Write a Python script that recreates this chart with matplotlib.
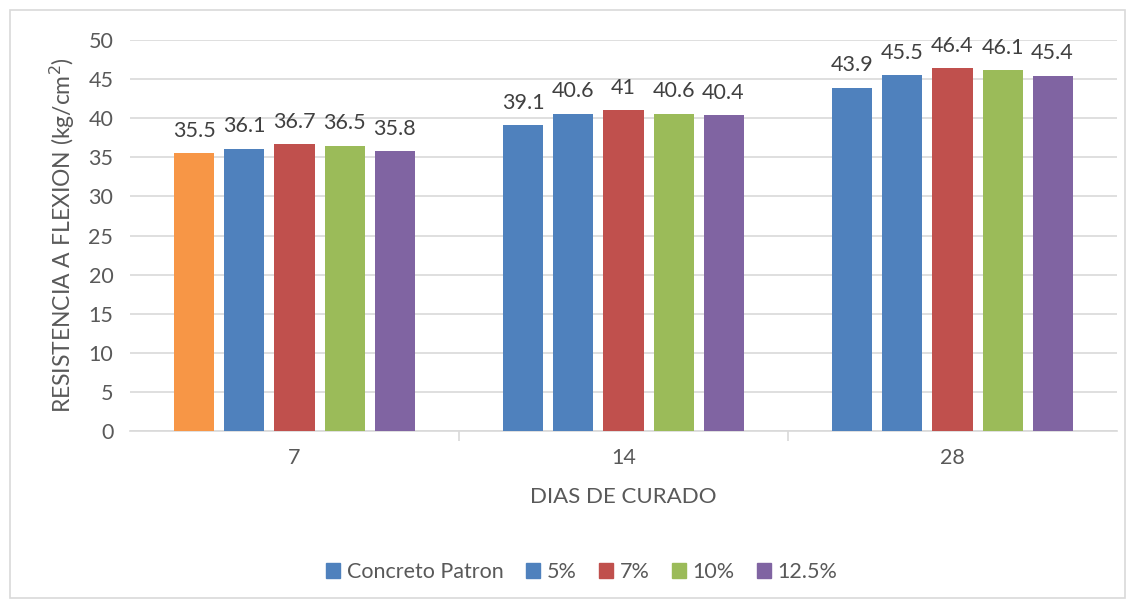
import matplotlib
matplotlib.use("Agg")
import matplotlib.pyplot as plt
import matplotlib.patches as mpatches
import numpy as np

# data
dias = ["7", "14", "28"]
series = ["Concreto Patron", "5%", "7%", "10%", "12.5%"]
patron = [35.5, 39.1, 43.9]
p5 = [36.1, 40.6, 45.5]
p7 = [36.7, 41, 46.4]
p10 = [36.5, 40.6, 46.1]
p125 = [35.8, 40.4, 45.4]
labels = [["35.5", "39.1", "43.9"], ["36.1", "40.6", "45.5"], ["36.7", "41", "46.4"],
          ["36.5", "40.6", "46.1"], ["35.8", "40.4", "45.4"]]

blue = "#4F81BD"
colors = [blue, blue, "#C0504D", "#9BBB59", "#8064A2"]
patron_colors = ["#F79646", blue, blue]  # first bar at 7 days is orange in the original
txt = "#595959"

plt.rcParams['font.family'] = ['Lato', 'DejaVu Sans']

fig = plt.figure(figsize=(11.35, 6.01), dpi=100)
ax = fig.add_axes([130 / 1135, 1 - 431 / 601, 987 / 1135, 391 / 601])

x = np.arange(len(dias))
step = 0.152
width = 0.1216
all_vals = [patron, p5, p7, p10, p125]
for i, vals in enumerate(all_vals):
    pos = x + (i - 2) * step
    cols = patron_colors if i == 0 else colors[i]
    ax.bar(pos, vals, width=width, color=cols, zorder=3)
    for px, v, lab in zip(pos, vals, labels[i]):
        ax.annotate(lab, (px, v), xytext=(0, 9), textcoords="offset points",
                    ha="center", va="bottom", fontsize=15.5, color="#404040")

ax.set_xlim(-0.5, 2.5)
ax.set_ylim(0, 50)
ax.set_yticks(range(0, 51, 5))
ax.yaxis.grid(True, color="#D9D9D9", linewidth=1.2, zorder=0)
ax.set_xticks(x)
ax.set_xticklabels(dias)
ax.set_xticks([0.5, 1.5], minor=True)
ax.tick_params(axis="x", which="major", length=0, pad=12, labelsize=15.5, labelcolor=txt)
ax.tick_params(axis="x", which="minor", length=7, color="#D9D9D9", width=1.2)
ax.tick_params(axis="y", length=0, pad=12, labelsize=15.5, labelcolor=txt)
for s in ["top", "right", "left"]:
    ax.spines[s].set_visible(False)
ax.spines["bottom"].set_color("#D9D9D9")
ax.spines["bottom"].set_linewidth(1.2)

ax.set_xlabel("DIAS DE CURADO", fontsize=16, color=txt, labelpad=14)
ax.set_ylabel("RESISTENCIA A FLEXION (kg/cm$^2$)", fontsize=16.5, color=txt, labelpad=8)

handles = [mpatches.Patch(color=c, label=s) for c, s in zip(colors, series)]
fig.legend(handles=handles, loc="center", bbox_to_anchor=(582 / 1135, 1 - 572 / 601),
           ncol=5, frameon=False, fontsize=15.5, labelcolor=txt, handlelength=0.65,
           handleheight=0.65, handletextpad=0.3, columnspacing=1.05)

# chart-area border
fig.add_artist(mpatches.Rectangle((10 / 1135, 3 / 601), 1115 / 1135, 588 / 601,
                                  transform=fig.transFigure, fill=False,
                                  edgecolor="#D9D9D9", linewidth=1.2))

fig.savefig("out.png", dpi=100)
